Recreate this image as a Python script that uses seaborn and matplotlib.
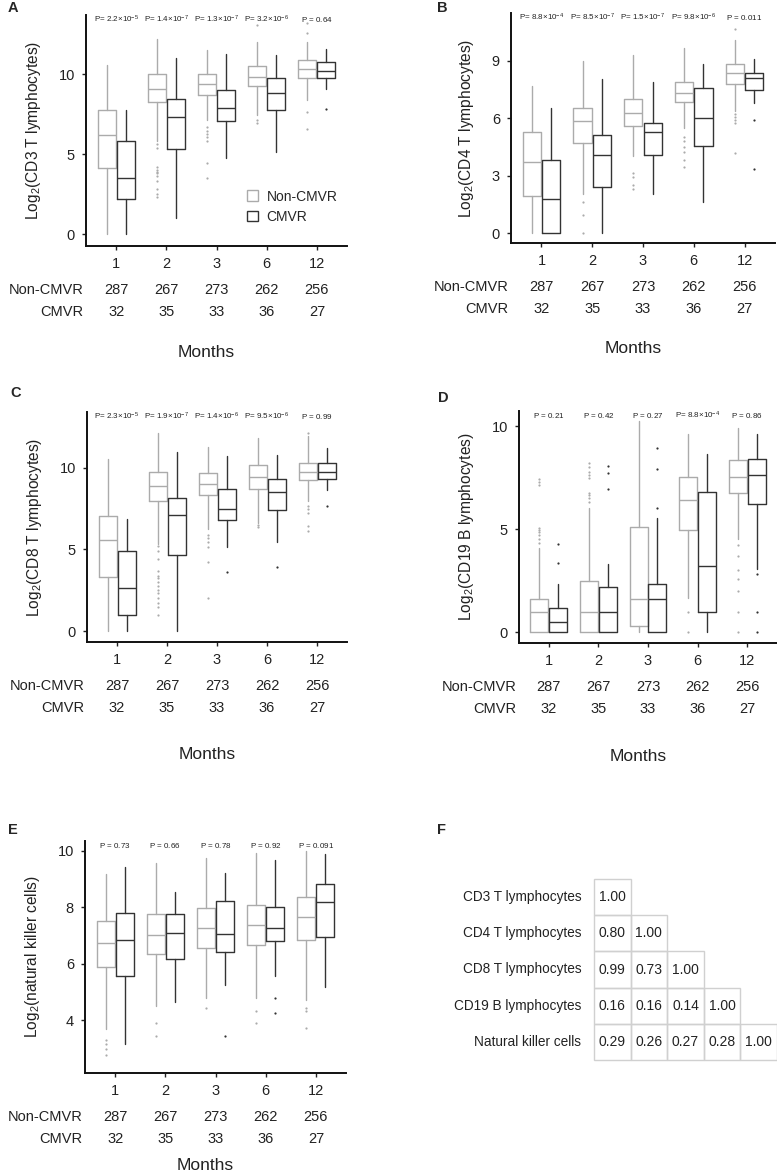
import matplotlib
matplotlib.use("Agg")
import numpy as np
import pandas as pd
import matplotlib.pyplot as plt
import seaborn as sns
from matplotlib.patches import Patch, Rectangle
from matplotlib.colors import ListedColormap

# ---- data ----
months = ["1", "2", "3", "6", "12"]
n_non = [287, 267, 273, 262, 256]
n_cmv = [32, 35, 33, 36, 27]

# box stats per month: (lower whisker, q1, median, q3, upper whisker)
cd3_non = [(0, 4.15, 6.19, 7.75, 10.56), (5.8, 8.27, 9.08, 9.98, 12.17), (7.13, 8.67, 9.38, 10.0, 11.5),
           (7.44, 9.25, 9.83, 10.5, 11.98), (8.38, 9.79, 10.35, 10.88, 12.02)]
cd3_non_out = [[], [5.6, 5.4, 4.2, 4.0, 3.9, 3.8, 3.6, 3.3, 2.8, 2.5, 2.3], [6.67, 6.46, 6.25, 6.08, 5.83, 4.42, 3.48],
               [7.13, 6.96, 13.06], [7.65, 6.6, 12.58, 13.17]]
cd3_cmv = [(0, 2.21, 3.48, 5.81, 7.75), (0.98, 5.29, 7.35, 8.42, 11.04), (4.73, 7.06, 7.9, 9.02, 11.29),
           (5.15, 7.75, 8.85, 9.77, 11.19), (9.1, 9.79, 10.21, 10.73, 11.6)]
cd3_cmv_out = [[], [], [], [], [7.81]]

cd4_non = [(0, 1.96, 3.7, 5.26, 7.68), (2.03, 4.69, 5.85, 6.51, 9.0), (4.03, 5.61, 6.25, 6.98, 9.29),
           (5.47, 6.86, 7.33, 7.9, 9.68), (6.4, 7.78, 8.39, 8.81, 10.08)]
cd4_non_out = [[], [1.6, 0.96, 0], [3.16, 2.95, 2.52, 2.31], [5.04, 4.81, 4.52, 4.26, 3.82, 3.47],
               [6.2, 6.05, 5.9, 5.77, 4.17, 10.68]]
cd4_cmv = [(0, 0, 1.79, 3.82, 6.51), (0, 2.43, 4.08, 5.12, 8.04), (2.03, 4.08, 5.26, 5.77, 7.9),
           (1.62, 4.57, 5.99, 7.59, 8.86), (6.8, 7.5, 8.08, 8.34, 9.07)]
cd4_cmv_out = [[], [], [], [], [5.9, 3.34]]

cd8_non = [(0, 3.32, 5.55, 7.03, 10.51), (5.35, 7.97, 8.85, 9.75, 12.09), (6.27, 8.32, 9.02, 9.69, 11.27),
           (6.62, 8.71, 9.43, 10.14, 11.78), (7.95, 9.22, 9.75, 10.31, 11.95)]
cd8_non_out = [[], [5.18, 4.88, 4.43, 3.65, 3.34, 3.24, 3.03, 2.73, 2.52, 2.32, 2.01, 1.7, 1.5, 0.98],
               [5.9, 5.7, 5.45, 5.12, 4.2, 2.05], [6.48, 6.35], [7.64, 7.44, 7.23, 6.41, 6.15, 12.09]]
cd8_cmv = [(0, 0.98, 2.66, 4.88, 6.86), (0, 4.67, 7.09, 8.11, 10.96), (5.12, 6.78, 7.44, 8.71, 10.68),
           (5.43, 7.38, 8.5, 9.32, 10.76), (8.6, 9.32, 9.75, 10.31, 11.17)]
cd8_cmv_out = [[], [], [3.61], [3.91], [7.64]]

cd19_non = [(0, 0, 0.99, 1.59, 4.06), (0, 0, 0.99, 2.48, 6.0), (0, 0.29, 1.59, 5.08, 10.24),
            (1.63, 4.94, 6.39, 7.52, 9.61), (4.5, 6.75, 7.52, 8.35, 9.89)]
cd19_non_out = [[4.3, 4.5, 4.7, 4.85, 4.95, 5.05, 7.15, 7.3, 7.45],
                [6.33, 6.49, 6.65, 6.73, 7.46, 7.62, 7.78, 8.03, 8.19], [], [0.99, 0],
                [4.22, 3.7, 3.03, 2.6, 2.0, 0.99, 0]]
cd19_cmv = [(0, 0, 0.5, 1.15, 2.31), (0, 0, 0.99, 2.17, 3.3), (0, 0, 1.59, 2.31, 5.52),
            (0, 0.99, 3.2, 6.78, 8.64), (3.04, 6.23, 7.62, 8.4, 9.6)]
cd19_cmv_out = [[3.33, 4.26], [6.93, 7.73, 8.06], [6.04, 7.9, 8.92], [], [2.82, 0.99, 0]]

nk_non = [(3.68, 5.9, 6.75, 7.51, 9.18), (4.51, 6.33, 7.02, 7.76, 9.56), (4.8, 6.57, 7.28, 7.96, 9.74),
          (4.79, 6.65, 7.36, 8.1, 9.92), (4.72, 6.85, 7.64, 8.35, 9.98)]
nk_non_out = [[3.3, 3.15, 2.99, 2.78], [3.9, 3.44], [4.43], [4.31, 3.9], [4.45, 4.31, 3.71]]
nk_cmv = [(3.14, 5.56, 6.83, 7.79, 9.42), (4.63, 6.18, 7.08, 7.78, 8.55), (5.24, 6.4, 7.05, 8.24, 9.2),
          (5.58, 6.79, 7.26, 8.02, 9.69), (5.17, 6.94, 8.19, 8.81, 9.89)]
nk_cmv_out = [[], [], [3.44], [4.8, 4.24], []]

p_cd3 = [r"$P$= 2.2×10$^{-5}$", r"$P$= 1.4×10$^{-7}$", r"$P$= 1.3×10$^{-7}$", r"$P$= 3.2×10$^{-6}$", r"$P$ = 0.64"]
p_cd4 = [r"$P$= 8.8×10$^{-4}$", r"$P$= 8.5×10$^{-7}$", r"$P$= 1.5×10$^{-7}$", r"$P$= 9.8×10$^{-6}$", r"$P$ = 0.011"]
p_cd8 = [r"$P$= 2.3×10$^{-5}$", r"$P$= 1.9×10$^{-7}$", r"$P$= 1.4×10$^{-6}$", r"$P$= 9.5×10$^{-6}$", r"$P$ = 0.99"]
p_cd19 = [r"$P$ = 0.21", r"$P$ = 0.42", r"$P$ = 0.27", r"$P$= 8.8×10$^{-4}$", r"$P$ = 0.86"]
p_nk = [r"$P$ = 0.73", r"$P$ = 0.66", r"$P$ = 0.78", r"$P$ = 0.92", r"$P$ = 0.091"]

cell_types = ["CD3 T lymphocytes", "CD4 T lymphocytes", "CD8 T lymphocytes",
              "CD19 B lymphocytes", "Natural killer cells"]
corr_rows = [[1.00], [0.80, 1.00], [0.99, 0.73, 1.00], [0.16, 0.16, 0.14, 1.00],
             [0.29, 0.26, 0.27, 0.28, 1.00]]

# ---- style ----
sns.set_style("ticks")
plt.rcParams["font.family"] = ["Liberation Sans", "DejaVu Sans"]
plt.rcParams["mathtext.fontset"] = "custom"
plt.rcParams["mathtext.rm"] = "Liberation Sans"
plt.rcParams["mathtext.it"] = "Liberation Sans:italic"
plt.rcParams["mathtext.default"] = "regular"

GRAY = "#ababab"
DARK = "#333333"
TXT = "#222222"

fig = plt.figure(figsize=(7.77, 11.72), dpi=100)
W, H = 777, 1172


def px_axes(l, t, r, b):
    return fig.add_axes([l / W, 1 - b / H, (r - l) / W, (b - t) / H])


def box_panel(ax, non, non_out, cmv, cmv_out, pvals, ylabel, yticks, ylim, months_y):
    for stats, outs, off, col in [(non, non_out, -0.19, GRAY), (cmv, cmv_out, 0.19, DARK)]:
        bx = [dict(whislo=s[0], q1=s[1], med=s[2], q3=s[3], whishi=s[4], fliers=o)
              for s, o in zip(stats, outs)]
        ax.bxp(bx, positions=np.arange(5) + off, widths=0.36, showcaps=False,
               boxprops=dict(color=col, lw=1.0), whiskerprops=dict(color=col, lw=1.0),
               medianprops=dict(color=col, lw=1.0),
               flierprops=dict(marker="o", markersize=1.6, markerfacecolor=col, markeredgecolor="none"),
               manage_ticks=False)
    ax.set_xlim(-0.6, 4.6)
    ax.set_ylim(*ylim)
    ax.set_xticks(range(5), months)
    ax.set_yticks(yticks)
    ax.tick_params(labelsize=10.5, length=3, width=1, colors=TXT, pad=5)
    for s in ["left", "bottom"]:
        ax.spines[s].set_linewidth(1.4)
        ax.spines[s].set_color("#111111")
    sns.despine(ax=ax)
    ax.set_ylabel(ylabel, fontsize=11.2, color=TXT, labelpad=11)
    tr = ax.get_xaxis_transform()
    for i, p in enumerate(pvals):
        ax.text(i, 0.98, p, transform=tr, ha="center", va="center", fontsize=5.8, color=TXT)
    for i in range(5):
        ax.text(i, -0.19, str(n_non[i]), transform=tr, ha="center", va="center", fontsize=10.5, color=TXT)
        ax.text(i, -0.285, str(n_cmv[i]), transform=tr, ha="center", va="center", fontsize=10.5, color=TXT)
    ax.text(-0.01, -0.19, "Non-CMVR", transform=ax.transAxes, ha="right", va="center", fontsize=10.5, color=TXT)
    ax.text(-0.01, -0.285, "CMVR", transform=ax.transAxes, ha="right", va="center", fontsize=10.5, color=TXT)
    ax.text(1.8, months_y, "Months", transform=tr, ha="center", va="center", fontsize=12.5, color=TXT)


axA = px_axes(86, 15, 347, 246)
box_panel(axA, cd3_non, cd3_non_out, cd3_cmv, cd3_cmv_out, p_cd3,
          "Log$_2$(CD3 T lymphocytes)", [0, 5, 10], (-0.75, 13.7), -0.46)
axA.legend(handles=[Patch(facecolor="white", edgecolor=GRAY, label="Non-CMVR"),
                    Patch(facecolor="white", edgecolor=DARK, label="CMVR")],
           loc="center left", bbox_to_anchor=(0.57, 0.17), frameon=False, fontsize=10,
           handlelength=0.8, handleheight=0.8, handletextpad=0.6, labelspacing=0.45)

axB = px_axes(511, 13, 775, 243)
box_panel(axB, cd4_non, cd4_non_out, cd4_cmv, cd4_cmv_out, p_cd4,
          "Log$_2$(CD4 T lymphocytes)", [0, 3, 6, 9], (-0.52, 11.5), -0.46)

axC = px_axes(87, 412, 347, 642)
box_panel(axC, cd8_non, cd8_non_out, cd8_cmv, cd8_cmv_out, p_cd8,
          "Log$_2$(CD8 T lymphocytes)", [0, 5, 10], (-0.67, 13.4), -0.49)

axD = px_axes(519, 411, 777, 643)
box_panel(axD, cd19_non, cd19_non_out, cd19_cmv, cd19_cmv_out, p_cd19,
          "Log$_2$(CD19 B lymphocytes)", [0, 5, 10], (-0.53, 10.73), -0.49)

axE = px_axes(85, 841, 346, 1073)
box_panel(axE, nk_non, nk_non_out, nk_cmv, nk_cmv_out, p_nk,
          "Log$_2$(natural killer cells)", [4, 6, 8, 10], (2.13, 10.35), -0.40)

# ---- correlation table (lower triangle) ----
corr = pd.DataFrame(np.nan, index=cell_types, columns=cell_types)
for i, row in enumerate(corr_rows):
    for j, v in enumerate(row):
        corr.iloc[i, j] = v
mask = corr.isna()

axF = px_axes(594, 879, 777, 1060)
sns.heatmap(corr, mask=mask, ax=axF, cmap=ListedColormap(["white"]), cbar=False, annot=True, fmt=".2f",
            annot_kws=dict(color=TXT, fontsize=10), linewidths=0)
for i, row in enumerate(corr_rows):
    for j in range(len(row)):
        axF.add_patch(Rectangle((j, i), 1, 1, fill=False, edgecolor="#d0d0d0", lw=1, clip_on=False))
axF.set_xticks([])
axF.tick_params(axis="y", length=0, pad=9, labelsize=9.8, colors=TXT)
axF.set_yticklabels(cell_types, rotation=0)

for letter, x, y in [("A", 8, 8), ("B", 437, 8), ("C", 10, 393), ("D", 438, 398), ("E", 8, 830), ("F", 437, 830)]:
    fig.text(x / W, 1 - y / H, letter, fontsize=10.5, fontweight="bold", ha="left", va="center")

fig.savefig("out.png", dpi=100)
